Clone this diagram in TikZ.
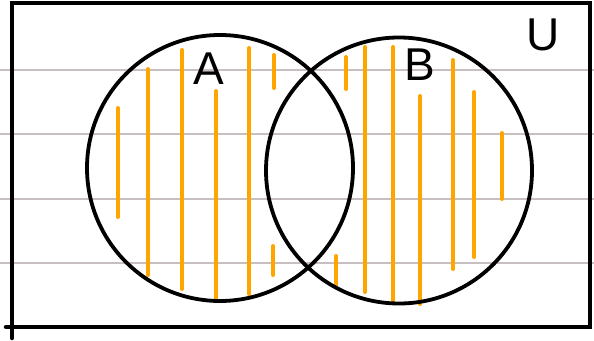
\documentclass[tikz,border=0pt]{standalone}
\usepackage{fontspec}
\setmainfont{Liberation Sans}
\begin{document}
\begin{tikzpicture}[x=1pt,y=-1pt,
  paperline/.style={draw={rgb,255:red,200;green,192;blue,192},line width=1.6pt},
  frameline/.style={draw=black,line width=4.5pt,line cap=round},
  setcircle/.style={draw=black,line width=3.8pt},
  hatch/.style={draw={rgb,255:red,255;green,165;blue,0},line width=4pt,line cap=round},
  setlabel/.style={font=\fontsize{46}{46}\selectfont,inner sep=0pt,anchor=center}]
\useasboundingbox (0,0) rectangle (594,340);
\fill[white] (0,0) rectangle (594,340);
% lined paper
\foreach \yy in {70,134,199,263} \draw[paperline] (0,\yy) -- (594,\yy);
% frame
\draw[frameline] (12,338) -- (12,3) -- (590,3) -- (590,327) -- (6,327);
% hatching in A
\foreach \xx/\ya/\yb in {118/108/217, 148/69/275, 182/50/289, 216/91/298, 249/48/294, 274/55/88, 273/246/275}
  \draw[hatch] (\xx,\ya) -- (\xx,\yb);
% hatching in B
\foreach \xx/\ya/\yb in {336/256/286, 346/57/89, 365/47/292, 393/47/303, 420/96/304, 453/60/269, 474/92/257, 502/133/199}
  \draw[hatch] (\xx,\ya) -- (\xx,\yb);
% circles
\draw[setcircle] (220,168) circle[radius=133];
\draw[setcircle] (399,170.5) circle[radius=133];
% labels
\node[setlabel] (la) at (209,69) {A};
\node[setlabel] (lb) at (420,65) {B};
\node[setlabel] (lu) at (543,35) {U};
\end{tikzpicture}
\end{document}
